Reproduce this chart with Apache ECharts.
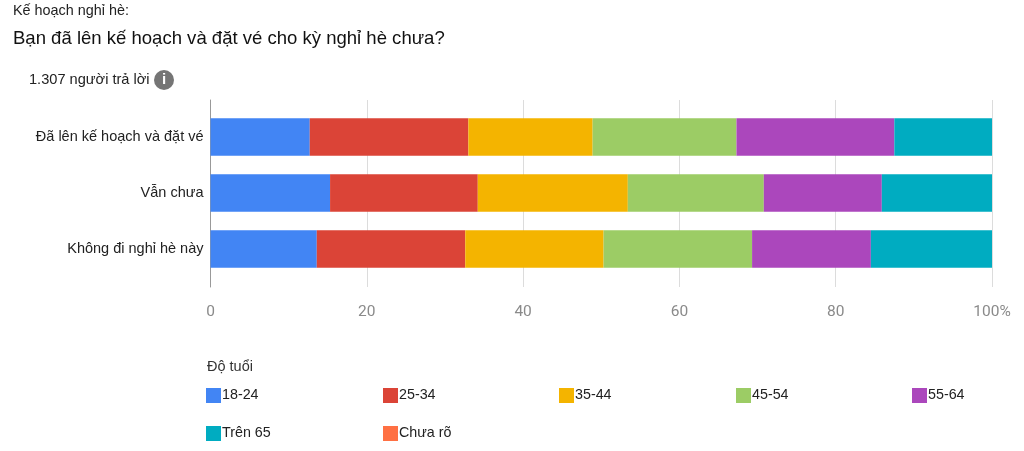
<!DOCTYPE html>
<html><head><meta charset="utf-8">
<style>html,body{margin:0;padding:0;background:#fff}#c{width:1024px;height:451px}</style>
<script src="https://cdn.jsdelivr.net/npm/echarts@6/dist/echarts.min.js"></script>
</head><body><div id="c"></div>
<script>
var categories = ['Đã lên kế hoạch và đặt vé', 'Vẫn chưa', 'Không đi nghỉ hè này'];
var ageGroups = ['18-24', '25-34', '35-44', '45-54', '55-64', 'Trên 65', 'Chưa rõ'];
var colors = ['#4285f4', '#db4437', '#f4b400', '#9ccc65', '#ab47bc', '#00acc1', '#ff7043'];
var age1824 = [12.7, 15.3, 13.6];
var age2534 = [20.3, 18.9, 19.0];
var age3544 = [15.9, 19.2, 17.7];
var age4554 = [18.4, 17.4, 19.0];
var age5564 = [20.2, 15.1, 15.2];
var age65 = [12.5, 14.1, 15.5];
var ageUnknown = [0, 0, 0];
var seriesValues = [age1824, age2534, age3544, age4554, age5564, age65, ageUnknown];
var xTicks = [0, 20, 40, 60, 80, 100];
var F = '"Liberation Sans", Arial, sans-serif';
var legendPos = [[206,388],[383,388],[559,388],[736,388],[912,388],[206,426],[383,426]];

var chart = echarts.init(document.getElementById('c'), null, {renderer:'canvas'});
chart.setOption({
  backgroundColor:'#fff',
  animation:false,
  title:[
    {text:'Kế hoạch nghỉ hè:',left:13,top:4,padding:0,textStyle:{fontFamily:F,fontSize:14.4,fontWeight:'normal',color:'#222'}},
    {text:'Bạn đã lên kế hoạch và đặt vé cho kỳ nghỉ hè chưa?',left:13,top:29,padding:0,textStyle:{fontFamily:F,fontSize:18.55,fontWeight:'normal',color:'#111'}},
    {text:'1.307 người trả lời',left:29,top:72,padding:0,textStyle:{fontFamily:F,fontSize:14.6,fontWeight:'normal',color:'#222'}},
    {text:'Độ tuổi',left:207,top:359,padding:0,textStyle:{fontFamily:F,fontSize:14.5,fontWeight:'normal',color:'#333'}}
  ],
  grid:[
    {left:210.5,right:32,top:109,height:168},
    {left:210.5,right:32,top:100,height:187}
  ],
  xAxis:[
    {gridIndex:0,type:'value',min:0,max:100,show:false},
    {gridIndex:1,type:'value',min:0,max:100,interval:20,
     axisLine:{show:false},axisTick:{show:false},
     splitLine:{show:true,lineStyle:{color:'#dcdcdc',width:1}},
     axisLabel:{margin:17,color:'#8a8a8a',fontFamily:'Roboto, sans-serif',fontSize:15.5,
       formatter:function(v){return xTicks.indexOf(v)===xTicks.length-1 ? v+'%' : ''+v;}}}
  ],
  yAxis:[
    {gridIndex:0,type:'category',inverse:true,data:categories,
     axisLine:{show:false},axisTick:{show:false},
     axisLabel:{margin:7,color:'#222',fontFamily:F,fontSize:14.5,padding:[2,0,0,0]}},
    {gridIndex:1,type:'category',data:[''],
     axisLine:{show:true,lineStyle:{color:'#999',width:1}},axisTick:{show:false},axisLabel:{show:false}}
  ],
  legend:legendPos.map(function(p,i){
    return {data:[ageGroups[i]],left:p[0],top:p[1],padding:0,itemWidth:15,itemHeight:15,itemGap:0,
      icon:'rect',textStyle:{fontFamily:F,fontSize:14.3,color:'#222',padding:[0,0,0,-4]},selectedMode:false};
  }),
  series:ageGroups.map(function(n,i){
    return {name:n,type:'bar',stack:'a',xAxisIndex:0,yAxisIndex:0,data:seriesValues[i],
      barWidth:37.5,itemStyle:{color:colors[i]}};
  }),
  graphic:[
    {type:'circle',shape:{cx:164,cy:80,r:10},style:{fill:'#757575'}},
    {type:'text',style:{x:164,y:80,text:'i',fill:'#fff',font:'bold 15px "Liberation Sans"',textAlign:'center',textVerticalAlign:'middle'}}
  ]
});
</script></body></html>
